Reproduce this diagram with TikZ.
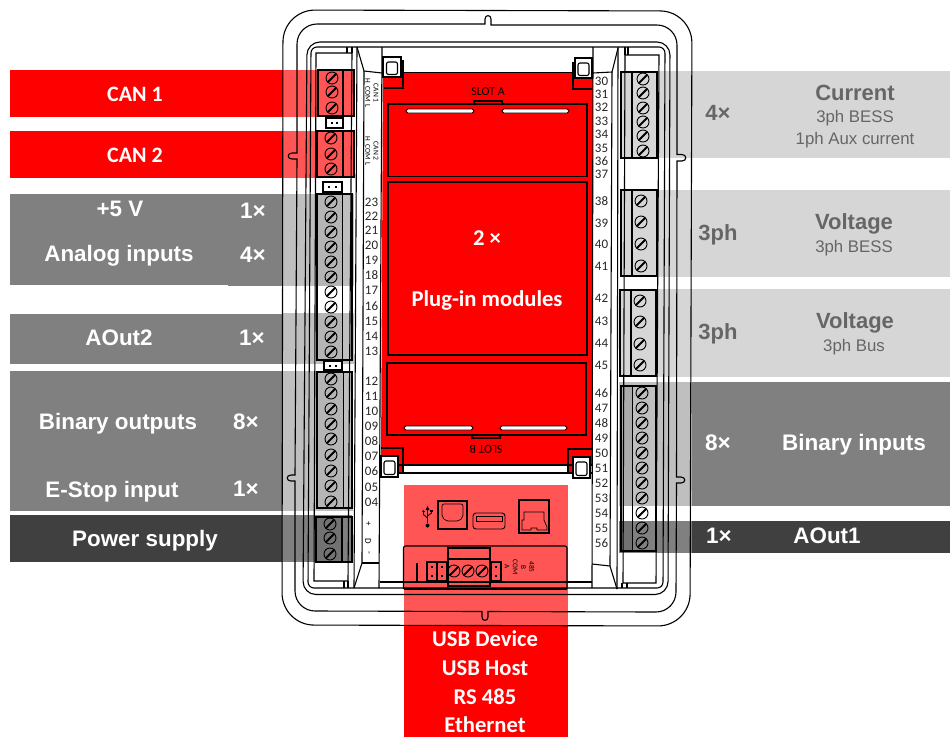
\documentclass[tikz,border=0pt]{standalone}
\usepackage{fontspec}
\setmainfont{Carlito}
\newfontfamily\arialf{Liberation Sans}
\definecolor{rd}{RGB}{255,0,0}
\definecolor{pk}{RGB}{255,85,85}
\definecolor{gm}{RGB}{128,128,128}
\definecolor{gl}{RGB}{191,191,191}
\definecolor{gd}{RGB}{64,64,64}
\definecolor{gv}{RGB}{214,214,214}
\definecolor{gt}{RGB}{102,102,102}
\tikzset{
  ln/.style={draw=black,line width=0.8pt},
  lnb/.style={draw=black,line width=1.1pt},
  num/.style={inner sep=0pt,font=\fontsize{13}{14}\selectfont,text=black!85},
  tiny/.style={inner sep=0pt,align=center,rotate=-90,font=\fontsize{7.5}{8.2}\selectfont},
  wa/.style={inner sep=0pt,text=white,font=\arialf\bfseries\fontsize{22.4}{24}\selectfont},
  wc/.style={inner sep=0pt,text=white,font=\bfseries\fontsize{22.6}{24}\selectfont},
  ga/.style={inner sep=0pt,text=gt,font=\arialf\bfseries\fontsize{22}{24}\selectfont},
  gs/.style={inner sep=0pt,text=gt,font=\arialf\fontsize{16.8}{18}\selectfont},
}
\newcommand{\scr}[2]{%
  \draw[line width=0.9pt] (#1,#2) circle (6);
  \draw[line width=2pt] (#1-4.3,#2+4.3) -- (#1+4.3,#2-4.3);}
\newcommand{\jmp}[5]{% x1 x2 y1 y2 : horizontal jumper
  \draw[lnb,fill=#5] (#1,#3) rectangle (#2,#4);
  \fill (#1+5,{(#3+#4)/2-1}) rectangle +(2.2,2.2);
  \fill (#2-7,{(#3+#4)/2-1}) rectangle +(2.2,2.2);}
\newcommand{\vjmp}[4]{%
  \draw[lnb] (#1,#3) rectangle (#2,#4);
  \fill ({(#1+#2)/2-1.1},#3+4) rectangle +(2.2,2.2);
  \fill ({(#1+#2)/2-1.1},#4-6) rectangle +(2.2,2.2);}
\begin{document}
\begin{tikzpicture}[x=1pt,y=-1pt]
\useasboundingbox (0,0) rectangle (950,737);
% ---------- bands (under the line work)
\fill[rd] (10,70) rectangle (283,117);
\fill[pk] (283,70) rectangle (354,117);
\fill[rd] (10,131) rectangle (283,178);
\fill[pk] (283,131) rectangle (354,178);
\fill[gm] (10,194) rectangle (282,285);
\fill[gm] (228,285) rectangle (282,286);
\fill[gl] (282,194) rectangle (354,286);
\fill[gm] (10,314) rectangle (282,364);
\fill[gl] (282,313) rectangle (354,364);
\fill[gm] (10,371) rectangle (282,511);
\fill[gl] (282,371) rectangle (353,511);
\fill[gd] (10,515) rectangle (282,562);
\fill[gm] (282,515) rectangle (352,562);
\fill[gv] (621,71) rectangle (950,157.5);
\fill[gv] (621,190) rectangle (950,277);
\fill[gv] (620,289) rectangle (950,377);
\fill[gm] (692,382) rectangle (950,506);
\fill[gl] (619,382) rectangle (692,506);
\fill[gd] (692,521) rectangle (950,553);
\fill[gm] (619,521) rectangle (692,553);
% ---------- red board
\fill[rd] (383,72) -- (593,72) -- (592,465) -- (381,465) -- cycle;
\fill[rd] (384,61) rectangle (403,88);
\fill[rd] (573,63) rectangle (592,89);
\fill[rd] (381,448) rectangle (403,473);
\fill[rd] (568,449) rectangle (590,473);
% ---------- bottom panel
\fill[pk] (403.5,485) rectangle (568,625.5);
\fill[rd] (403.5,625.5) rectangle (568,737);
% ---------- case outlines
\draw[lnb,rounded corners=32pt] (283,10) -- (692,11) -- (690,626) -- (282,625) -- cycle;
\draw[lnb]
  (317,24) -- (485,24) -- (485,19) .. controls (485,14.5) and (491,14.5) .. (491,19) -- (491,25)
  -- (657,25) .. controls (668,25) and (677,34) .. (677,45)
  -- (677,154.5) -- (682,154.5) .. controls (687,154.5) and (687,161) .. (682,161) -- (677,161)
  -- (676.5,477) -- (681,477) .. controls (686,477) and (686,483) .. (681,483) -- (676.5,483)
  -- (676,592) .. controls (676,603) and (667,612) .. (656,612)
  -- (488,611.5) -- (488,617) .. controls (488,621.5) and (482,621.5) .. (482,617) -- (482,611.5)
  -- (315,611) .. controls (304,611) and (295,602) .. (295,591)
  -- (295,481) -- (291,481) .. controls (286,481) and (286,475) .. (291,475) -- (295,475)
  -- (297,159) -- (292,159) .. controls (287,159) and (287,153) .. (292,153) -- (297,153)
  -- (297,44) .. controls (297,33) and (306,24) .. (317,24) -- cycle;
\draw[lnb,rounded corners=13pt] (307,42) -- (670,42) -- (668,594.5) -- (303,594.5) -- cycle;
\draw[lnb,rounded corners=6pt] (311,47) -- (665,47) -- (663,588) -- (308,588) -- cycle;
% ---------- left enclosure
\draw[lnb] (316,53) -- (352,53) -- (348,581) -- (314,581) -- cycle;
\draw[lnb] (347,47) -- (347,53) (352,47) -- (352,53) (344,581) -- (344,588) (348,581) -- (348,588);
\draw[lnb] (357,47) -- (354,588);
% ---------- left label strip
\draw[lnb] (357,47) -- (364,71) -- (382,73);
\draw[lnb] (364,71) -- (362,563) -- (354,588);
\draw[lnb] (362,563) -- (379,563);
\draw[lnb] (382,47) -- (379,588);
% ---------- right label strip
\draw[lnb] (593,47) -- (592,588);
\draw[lnb] (593,73) -- (612,72) -- (618,48);
\draw[lnb] (612,72) -- (610,566) -- (617,589);
\draw[lnb] (592,564) -- (610,566);
\draw[lnb] (618,47) -- (617,589);
% ---------- right enclosure
\draw[lnb] (625,55) -- (659,55) -- (656,583) -- (623,583) -- cycle;
\draw[lnb] (625,47) -- (625,55) (628,47) -- (628,55) (622,583) -- (622,588) (627,583) -- (627,588);
% ---------- horizontal lines in the middle
\draw[lnb] (382,72.5) -- (593,72.5);
\draw[lnb] (381,465) -- (592,465);
\draw[lnb] (381,473) -- (592,473);
\draw[lnb] (380,582) -- (592,582);
% ---------- corner tabs
\draw[lnb] (384,88) -- (403,88) -- (403,61) -- (401,61);
\draw[lnb] (575,63) -- (573,63) -- (573,89) -- (592,89);
\draw[lnb] (381,448) -- (403,448) -- (403,473);
\draw[lnb] (592,449) -- (568,449) -- (568,473);
\foreach \ax/\ay/\bx/\by/\ix in {383/57/401/77/392,575/58/592/78/583.5,381/456/398/477/389.5,573/457/590/478/581.5}{
  \draw[lnb,fill=white] (\ax,\ay) rectangle (\bx,\by);
  \draw[lnb,fill=white,rounded corners=2pt] (\ix-5.5,\ay+5) rectangle (\ix+5.5,\by-2.5);
}
% ---------- module rectangles
\draw[lnb] (388,104) rectangle (587,176.5);
\draw[lnb] (388,182) rectangle (587,355);
\draw[lnb] (387,363) rectangle (586,435);
\draw[lnb] (474,101) rectangle (502,104);
\draw[lnb] (472,435) rectangle (500,438);
\foreach \a/\b/\yy in {406/474/111,502/569/111,404/473/428,500/567/428}{
  \draw[line width=0.8pt,fill=white,rounded corners=1.8pt] (\a,\yy-2) rectangle (\b,\yy+2);
}
\node[inner sep=0pt,font=\fontsize{12}{13}\selectfont] (slota) at (488,92) {SLOT A};
\node[inner sep=0pt,rotate=180,font=\fontsize{12}{13}\selectfont] (slotb) at (486,449) {SLOT B};
% ---------- jumpers
\jmp{326}{343}{118}{128}{white}
\jmp{323}{342}{182}{192}{white}
\jmp{324}{342}{361}{370}{white}
% ---------- tints of the screw sides
\fill[black,opacity=.05] (317,194) rectangle (342,286);
\fill[black,opacity=.05] (317,313) rectangle (342,360);
\fill[black,opacity=.05] (317,372) rectangle (343,508);
\fill[black,opacity=.1] (316,517) rectangle (342,562);
\fill[black,opacity=.1] (621,386) rectangle (632,506);
\fill[black,opacity=.1] (621,521) rectangle (632,551);
% ---------- terminal blocks, left
\draw[lnb] (318,70) rectangle (354,116); \draw[lnb] (343,70) -- (343,116);
\draw[lnb] (317,131) rectangle (354,177); \draw[lnb] (343,131) -- (343,177);
\draw[lnb] (317,194) rectangle (352,360); \draw[ln] (342,194) -- (342,360);
\draw[lnb] (317,372) rectangle (352,508); \draw[ln] (343,372) -- (343,508);
\draw[lnb] (316,517) rectangle (352,562); \draw[lnb] (342,517) -- (342,562);
% ---------- terminal blocks, right
\draw[lnb] (621,72) rectangle (657,158); \draw[lnb] (632,72) -- (632,158);
\draw[lnb] (621,190) rectangle (657,276); \draw[lnb] (632,190) -- (632,276);
\draw[lnb] (620,290) rectangle (656,376); \draw[lnb] (631,290) -- (631,376);
\draw[lnb] (621,386) rectangle (656,551); \draw[ln] (632,386) -- (632,551);
% ---------- screws
\foreach \y in {78,92,108}{\scr{332}{\y}}
\foreach \y in {138,154,169}{\scr{331}{\y}}
\foreach \y in {202,217,232,247,262,277,292,307,322,337,352}{\scr{331}{\y}}
\foreach \y in {379,393,409,424,439,455,471,486,502}{\scr{331}{\y}}
\foreach \y in {524,538,554}{\scr{330}{\y}}
\foreach \y in {79,93,108,122,136,151}{\scr{643}{\y}}
\foreach \y in {201,222,244,266}{\scr{641}{\y}}
\foreach \y in {301,322,344,365}{\scr{640}{\y}}
\foreach \y in {393,408,423,438,453,468,483,498,513,528,543}{\scr{642}{\y}}
% ---------- numbers
\foreach \t/\y in {23/202,22/216,21/230,20/245,19/260,18/275,17/290,16/306,15/321,14/336,13/351,12/381,11/396,10/411,09/426,08/441,07/456,06/471,05/487,04/502}{
  \node[num] (n\t) at (371.5,\y) {\t};}
\foreach \t/\y in {30/81,31/94,32/107,33/121,34/134,35/148,36/161,37/174,38/201,39/223,40/244,41/266,42/298,43/321,44/343,45/365,46/393,47/408,48/423,49/438,50/453,51/468,52/483,53/498,54/513,55/528,56/543}{
  \node[num] (n\t) at (601.5,\y) {\t};}
\node[tiny] (can1) at (372,93) {CAN 1\\H\ \ COM\ \ L};
\node[tiny] (can2) at (372,151) {CAN 2\\H\ \ COM\ \ L};
\node[tiny,font=\fontsize{9}{10}\selectfont] (plus) at (368,524) {+};
\node[tiny,font=\fontsize{9}{10}\selectfont] (dd) at (368,541) {D};
\node[tiny,font=\fontsize{9}{10}\selectfont] (minus) at (368,553) {-};
% ---------- USB / Ethernet
\draw[line width=1.2pt] (438,501) rectangle (467,529);
\draw[line width=0.7pt,rounded corners=2pt] (442,504) -- (463,504) -- (463,517) -- (459,521) -- (446,521) -- (442,517) -- cycle;
\draw[line width=0.9pt,rounded corners=3pt] (473,513) rectangle (505,529);
\draw[line width=0.7pt] (476,516) rectangle (502,521);
\draw[line width=1.1pt] (519,500) rectangle (549,533);
\draw[line width=0.7pt] (522,530) -- (522,520) -- (524,520) -- (524,512) -- (544,512) -- (544,520) -- (547,527) -- (547,530) -- (537,530) -- (537,528) -- (531,528) -- (531,530) -- cycle;
% USB symbol
\draw[line width=1.1pt] (427.5,508) -- (427.5,523);
\fill (427.5,525.5) circle (2);
\fill (427.5,506) -- (425.5,510) -- (429.5,510) -- cycle;
\draw[line width=0.9pt] (427.5,518) -- (423.5,514.5) -- (423.5,512);
\draw[line width=0.9pt] (427.5,516) -- (431.5,513) -- (431.5,511);
\fill (423.5,511.5) circle (1.4);
\fill (430.3,509.5) rectangle (432.7,512);
% connector panel
\draw[lnb,rounded corners=2pt] (403.5,589) -- (403.5,546) -- (567,546) -- (567,589);
\draw[lnb] (403.5,589) -- (567,589);
\draw[line width=2.5pt] (417,563) -- (417,581);
\vjmp{427}{437}{562}{581}
\vjmp{437.5}{447}{562}{581}
\vjmp{491}{501}{562}{581}
\draw[lnb] (448,548) rectangle (490,586);
\draw[lnb] (448,559) -- (490,559);
\foreach \x in {454,468,482}{\scr{\x}{571}}
\node[tiny,font=\fontsize{7.3}{8.3}\selectfont] (com) at (519.5,567) {485\\B\\COM\\A};
% ---------- labels, left
\node[wc,font=\bfseries\fontsize{22}{24}\selectfont] (l1) at (135,94) {CAN 1};
\node[wc,font=\bfseries\fontsize{22}{24}\selectfont] (l2) at (135,155) {CAN 2};
\node[wa] (l3) at (120,209) {+5 V};
\node[wa] (l3x) at (253,211) {1×};
\node[wa] (l4) at (119,256) {Analog inputs};
\node[wa] (l4x) at (253,255) {4×};
\node[wa] (l5) at (119,338) {AOut2};
\node[wa] (l5x) at (252,338) {1×};
\node[wa] (l6) at (118,424) {Binary outputs};
\node[wa] (l6x) at (246,422) {8×};
\node[wa] (l7) at (112,492) {E-Stop input};
\node[wa] (l7x) at (246,489) {1×};
\node[wa] (l8) at (145,541) {Power supply};
% ---------- labels, right
\node[ga] (r1x) at (718,113) {4×};
\node[ga] (r1) at (855,93) {Current};
\node[gs] (r1a) at (855,118) {3ph BESS};
\node[gs] (r1b) at (855,140) {1ph Aux current};
\node[ga] (r2x) at (718,235) {3ph};
\node[ga] (r2) at (854,224) {Voltage};
\node[gs] (r2a) at (854,248) {3ph BESS};
\node[ga] (r3x) at (718,334) {3ph};
\node[ga] (r3) at (855,323) {Voltage};
\node[gs] (r3a) at (854,347) {3ph Bus};
\node[wa,font=\arialf\bfseries\fontsize{22.5}{24}\selectfont] (r4x) at (718,443) {8×};
\node[wa,font=\arialf\bfseries\fontsize{22.5}{24}\selectfont] (r4) at (854,445) {Binary inputs};
\node[wa] (r5x) at (719,536) {1×};
\node[wa] (r5) at (827,536) {AOut1};
% ---------- labels, centre
\node[wc] (m1) at (487,238) {2 ×};
\node[wc] (m2) at (487,300) {Plug-in modules};
\node[wc] (b1) at (485,639) {USB Device};
\node[wc] (b2) at (485,668) {USB Host};
\node[wc] (b3) at (485,697) {RS 485};
\node[wc] (b4) at (485,725) {Ethernet};
\end{tikzpicture}
\end{document}
